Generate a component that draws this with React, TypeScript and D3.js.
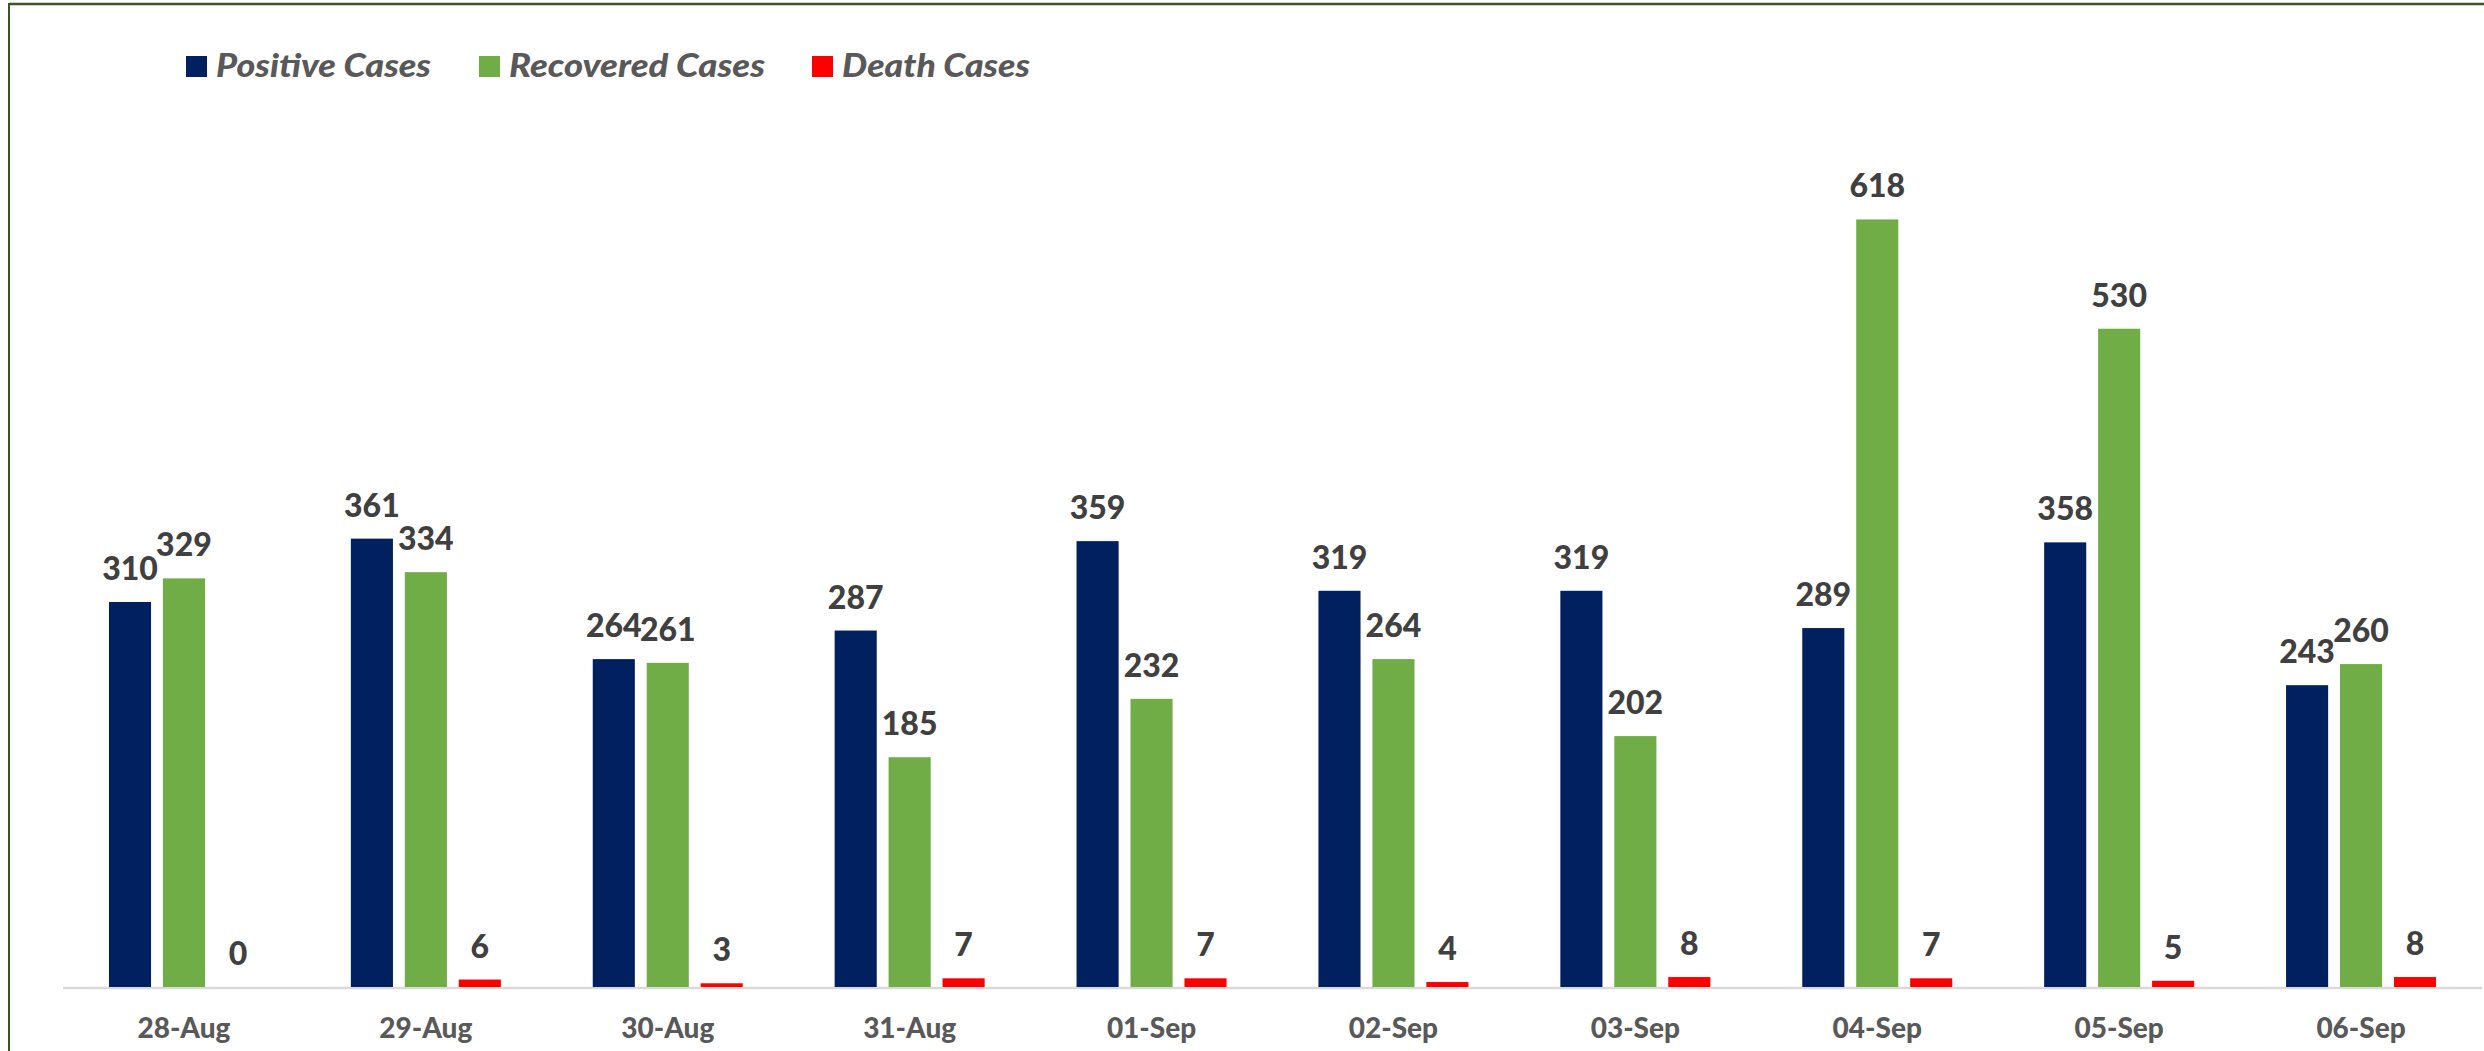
import { useEffect } from 'react';
import * as d3 from 'd3';

const dates = ['28-Aug', '29-Aug', '30-Aug', '31-Aug', '01-Sep', '02-Sep', '03-Sep', '04-Sep', '05-Sep', '06-Sep'];
const positive = [310, 361, 264, 287, 359, 319, 319, 289, 358, 243];
const recovered = [329, 334, 261, 185, 232, 264, 202, 618, 530, 260];
const deaths = [0, 6, 3, 7, 7, 4, 8, 7, 5, 8];

const seriesNames = ['Positive Cases', 'Recovered Cases', 'Death Cases'];
const seriesColors = ['#002060', '#70AD47', '#FF0000'];
const legendX = [186, 479, 812];
const legendLen = [215, 256, 188];

const W = 2484;
const H = 1051;
const baseY = 987;
const font = 'Lato, "Open Sans", sans-serif';

export default function App() {
  useEffect(() => {
    document.body.style.margin = '0';
  }, []);

  const x = d3.scaleBand<string>().domain(dates).range([63, 2482]).paddingInner(0).paddingOuter(0);
  const groupW = 150;
  const inner = d3.scaleBand<number>().domain([0, 1, 2]).range([0, groupW]).paddingInner(0.22);
  const y = d3.scaleLinear().domain([0, 700]).range([baseY, baseY - 700 * 1.242]);
  const series = [positive, recovered, deaths];

  return (
    <svg width={W} height={H} style={{ display: 'block', background: '#fff' }}>
      {/* frame */}
      <line x1={9} y1={4} x2={W} y2={4} stroke="#375623" strokeWidth={2.5} />
      <line x1={9} y1={3} x2={9} y2={H} stroke="#375623" strokeWidth={2} />

      {/* legend */}
      {seriesNames.map((name, i) => (
        <g key={name}>
          <rect x={legendX[i]} y={56} width={21} height={21} fill={seriesColors[i]} />
          <text x={legendX[i] + 30} y={77} fontFamily={font} fontWeight={900} fontStyle="italic"
            fontSize={33} fill="#595959" textLength={legendLen[i]} lengthAdjust="spacingAndGlyphs">{name}</text>
        </g>
      ))}

      {/* axis line */}
      <line x1={63} x2={2482} y1={baseY + 1} y2={baseY + 1} stroke="#D9D9D9" strokeWidth={2.5} />

      {dates.map((d, di) => {
        const gx = (x(d) as number) + (x.bandwidth() - groupW) / 2;
        return (
          <g key={d}>
            {series.map((vals, si) => {
              const v = vals[di];
              const bx = gx + (inner(si) as number);
              const bw = inner.bandwidth();
              return (
                <g key={si}>
                  <rect x={bx} y={y(v)} width={bw} height={baseY - y(v)} fill={seriesColors[si]} />
                  <text x={bx + bw / 2} y={y(v) - 22} textAnchor="middle" fontFamily={font}
                    fontWeight={900} fontSize={32} fill="#404040">{v}</text>
                </g>
              );
            })}
            <text x={(x(d) as number) + x.bandwidth() / 2} y={1038} textAnchor="middle"
              fontFamily={font} fontWeight={900} fontSize={28} fill="#595959">{d}</text>
          </g>
        );
      })}
    </svg>
  );
}
